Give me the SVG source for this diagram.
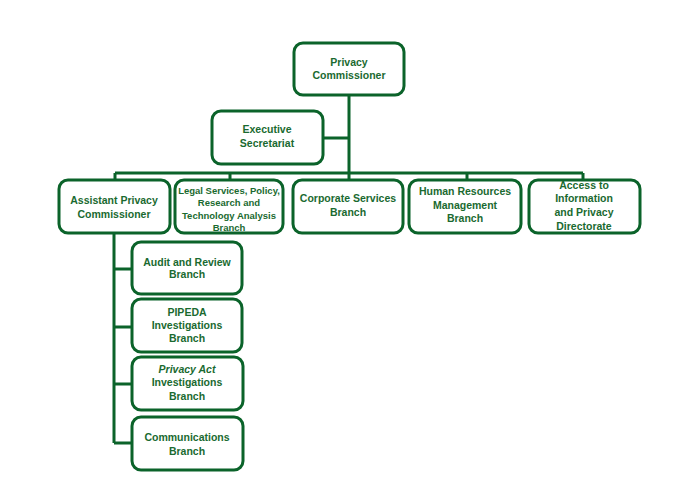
<svg xmlns="http://www.w3.org/2000/svg" width="678" height="504" viewBox="0 0 678 504">
<style>
.box{fill:#fff;stroke:#0b632a;stroke-width:3}
.ln{fill:none;stroke:#0b632a;stroke-width:3}
text{font-family:"Liberation Sans",Arial,sans-serif;font-weight:bold;font-size:10.5px;fill:#1a6a30;text-anchor:middle}
.sm{font-size:9.5px}
</style>
<rect width="678" height="504" fill="#fff"/>
<g id="connectors">
<path class="ln" d="M349 95V180M323 138H349M115 173H583M115 173V180M230 173V180M467 173V180M583 173V180"/>
<path class="ln" d="M114 233V443M114 269H132M114 327H132M114 384H132M114 443H132"/>
</g>
<g id="privacy-commissioner">
<rect class="box" x="294" y="43" width="110" height="52" rx="9"/>
<text x="349" y="66">Privacy</text>
<text x="349" y="79">Commissioner</text>
</g>
<g id="executive-secretariat">
<rect class="box" x="212" y="111" width="111" height="53" rx="9"/>
<text x="267" y="133">Executive</text>
<text x="267" y="147">Secretariat</text>
</g>
<g id="assistant-privacy-commissioner">
<rect class="box" x="59" y="180" width="111" height="53" rx="9"/>
<text x="114" y="204">Assistant Privacy</text>
<text x="114" y="218">Commissioner</text>
</g>
<g id="legal-services">
<rect class="box" x="175" y="180" width="108" height="53" rx="9"/>
<text class="sm" x="229" y="194">Legal Services, Policy,</text>
<text class="sm" x="229" y="206">Research and</text>
<text class="sm" x="229" y="219">Technology Analysis</text>
<text class="sm" x="229" y="231">Branch</text>
</g>
<g id="corporate-services">
<rect class="box" x="293" y="180" width="110" height="53" rx="9"/>
<text x="348" y="202">Corporate Services</text>
<text x="348" y="216">Branch</text>
</g>
<g id="human-resources">
<rect class="box" x="409" y="180" width="112" height="53" rx="9"/>
<text x="465" y="195">Human Resources</text>
<text x="465" y="209">Management</text>
<text x="465" y="222">Branch</text>
</g>
<g id="access-to-information">
<rect class="box" x="529" y="180" width="111" height="53" rx="9"/>
<text x="584" y="189">Access to</text>
<text x="584" y="202">Information</text>
<text x="584" y="216">and Privacy</text>
<text x="584" y="230">Directorate</text>
</g>
<g id="audit-review">
<rect class="box" x="132" y="242" width="110" height="52" rx="9"/>
<text x="187" y="266">Audit and Review</text>
<text x="187" y="278">Branch</text>
</g>
<g id="pipeda">
<rect class="box" x="132" y="299" width="110" height="53" rx="9"/>
<text x="187" y="316">PIPEDA</text>
<text x="187" y="329">Investigations</text>
<text x="187" y="342">Branch</text>
</g>
<g id="privacy-act">
<rect class="box" x="132" y="357" width="111" height="53" rx="9"/>
<text x="187" y="373" font-style="italic">Privacy Act</text>
<text x="187" y="386">Investigations</text>
<text x="187" y="400">Branch</text>
</g>
<g id="communications">
<rect class="box" x="132" y="417" width="111" height="53" rx="9"/>
<text x="187" y="441">Communications</text>
<text x="187" y="455">Branch</text>
</g>
</svg>
